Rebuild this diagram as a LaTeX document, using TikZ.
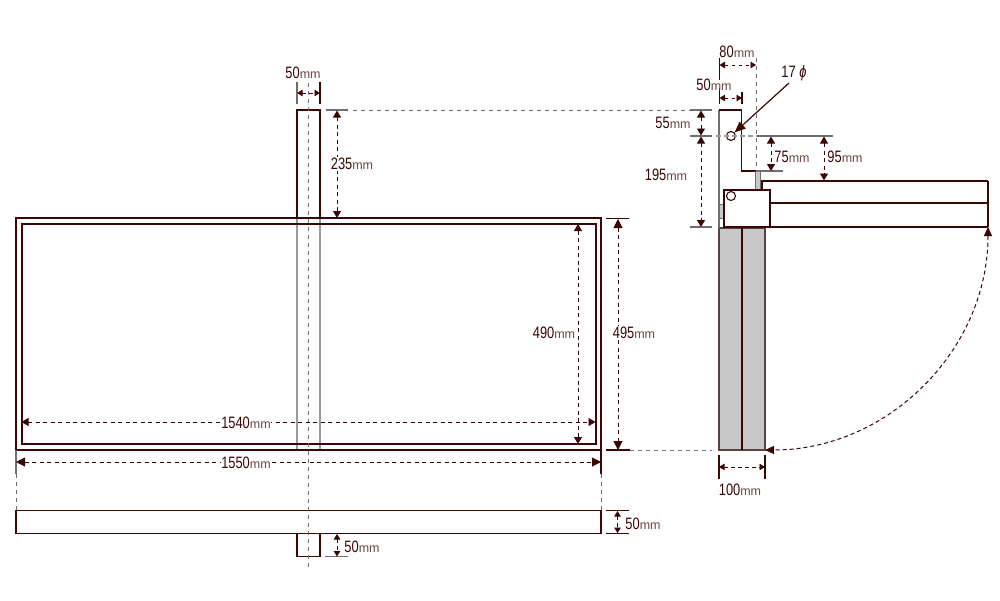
\documentclass[tikz,border=0pt]{standalone}
\usepackage{fontspec}
\setmainfont[FakeStretch=0.78]{Liberation Sans}
\newfontfamily\mmfont{Liberation Sans}
\usetikzlibrary{arrows.meta}
\definecolor{ink}{HTML}{3A0606}
\definecolor{gline}{HTML}{6E6E6E}
\definecolor{lgray}{HTML}{9A9A9A}
\definecolor{fillg}{HTML}{C8C8C8}
\tikzset{
  outline/.style={draw=ink,line width=1.5pt},
  thickline/.style={draw=ink,line width=2pt},
  fineg/.style={draw=lgray,line width=1.1pt},
  tick/.style={draw=gline,line width=1.2pt},
  dtick/.style={draw=ink,line width=1.2pt},
  hidden/.style={draw=gline,line width=1pt,dash pattern=on 4pt off 4pt},
  bigdim/.style={draw=ink,line width=0.95pt,dash pattern=on 4pt off 3.5pt,{Triangle[length=9pt,width=9pt,fill=ink]}-{Triangle[length=9pt,width=9pt,fill=ink]}},
  middim/.style={draw=ink,line width=0.95pt,dash pattern=on 4pt off 3.5pt,{Triangle[length=7pt,width=8pt,fill=ink]}-{Triangle[length=7pt,width=8pt,fill=ink]}},
  smalldim/.style={draw=ink,line width=0.95pt,dash pattern=on 3.5pt off 3.5pt,{Triangle[length=5.5pt,width=6.5pt,fill=ink]}-{Triangle[length=5.5pt,width=6.5pt,fill=ink]}},
  lab/.style={inner sep=0pt,text=ink,font=\fontsize{16.5}{17}\selectfont},
  whitelab/.style={lab,fill=white,inner xsep=0.5pt,inner ysep=1pt},
  hole/.style={circle,draw=ink,line width=1.1pt,fill=white,minimum size=9pt,inner sep=0pt},
}
\newcommand{\mmlab}[1]{#1{\mmfont\fontsize{12.5}{13}\selectfont\color{ink!75}mm}}
\begin{document}
\begin{tikzpicture}[x=1pt,y=-1pt]
\useasboundingbox (0,0) rectangle (1000,600);
\fill[white] (0,0) rectangle (1000,600);
% ---- front view
\draw[fineg] (297,218) -- (297,450);
\draw[fineg] (320,218) -- (320,450);
\draw[outline] (16,218) rectangle (601,450);
\draw[thickline] (21.5,223.5) rectangle (595.5,444);
\draw[outline] (297,218) -- (297,110) -- (320,110) -- (320,218);
% ---- plan view
\draw[outline] (16,510.5) rectangle (601,533.5);
\draw[outline] (297,533.5) -- (297,556.5) -- (320,556.5) -- (320,533.5);
% centre line
\draw[hidden] (308.5,83) -- (308.5,568);
% extension lines
\draw[hidden] (353,110) -- (690,110);
\draw[hidden] (630,450) -- (712,450);
\draw[hidden] (16,474) -- (16,510);
\draw[hidden] (601,474) -- (601,510);
\draw[tick] (326,110) -- (348,110);
\draw[dtick] (606,218.5) -- (629,218.5);
\draw[dtick] (606,450) -- (630,450);
\draw[tick] (16,450) -- (16,474);
\draw[dtick] (601,450) -- (601,474);
\draw[dtick] (606,510.5) -- (629,510.5);
\draw[dtick] (606,533.5) -- (629,533.5);
\draw[tick] (325,556.5) -- (348,556.5);
\draw[tick] (297,82) -- (297,104);
\draw[dtick] (320,82) -- (320,104);
% ---- side view
\fill[fillg] (719,228) rectangle (765,450);
\draw[outline,draw=gline!60!ink] (719,228) rectangle (765,450);
\draw[thickline] (742,228) -- (742,450);
\draw[draw=gline,line width=1.4pt] (719,110) -- (719,228);
\draw[outline] (719,110) -- (741.5,110) -- (741.5,171) -- (757,171);
\draw[draw=gline,line width=1.3pt] (757,171) -- (783,171);
\draw[fill=fillg,draw=gline,line width=1pt] (755.5,171) rectangle (760.5,190);
\draw[fill=fillg,draw=gline,line width=1pt] (719.5,204) rectangle (723.5,218);
\draw[outline] (762,190) -- (762,181) -- (988,181);
\draw[outline] (770,203) -- (988,203);
\draw[outline] (770,227) -- (988,227);
\draw[outline] (988,181) -- (988,227);
\draw[thickline,fill=white] (723.5,190) rectangle (770,227);
\node[hole] (holeA) at (731,136) {};
\node[hole] (holeB) at (731,196) {};
% centre line of hole
\draw[draw=lgray,line width=1.1pt,dash pattern=on 5pt off 3pt] (716,136) -- (757,136);
\draw[draw=gline,line width=1.4pt] (757,136) -- (833,136);
\draw[tick] (690,136) -- (712,136);
\draw[tick] (690,110) -- (712,110);
\draw[tick] (690,227) -- (712,227);
\draw[hidden] (756,58) -- (756,171);
\draw[dtick] (719.5,58) -- (719.5,80);
\draw[dtick] (719.5,88) -- (719.5,104);
\draw[dtick] (742,92) -- (742,104);
\draw[dtick] (719,455) -- (719,479);
\draw[dtick] (765,455) -- (765,479);
% ---- dimensions
\draw[smalldim] (297,93) -- (320,93);
\draw[middim] (337,110.5) -- (337,218);
\draw[bigdim] (618,219) -- (618,450);
\draw[middim] (578,224) -- (578,444);
\draw[middim] (21.5,422) -- (595.5,422);
\draw[bigdim] (16,462) -- (601,462);
\draw[smalldim] (617.5,511) -- (617.5,533);
\draw[smalldim] (337,534) -- (337,556.5);
\draw[smalldim] (719,467) -- (765,467);
\draw[smalldim] (719.5,65) -- (756,65);
\draw[smalldim] (719.5,98) -- (742,98);
\draw[middim] (701,110.5) -- (701,135.5);
\draw[middim] (701,136.5) -- (701,227);
\draw[middim] (771,136.5) -- (771,171);
\draw[middim] (824,136.5) -- (824,180.5);
% leader to the hole
\coordinate (leader) at (789,83);
\draw[draw=ink,line width=1.2pt,-{Triangle[length=11pt,width=9pt,fill=ink]}] (leader) -- (holeA.45);
% swing arc
\draw[draw=ink,line width=1pt,dash pattern=on 4pt off 3pt,{Triangle[length=9pt,width=8pt,fill=ink]}-{Triangle[length=9pt,width=8pt,fill=ink]}] (988,227) .. controls (988,350) and (888,450) .. (765,450);
% ---- labels
\node[lab] (l50a) at (303,73) {\mmlab{50}};
\node[whitelab] (l235) at (352,164) {\mmlab{235}};
\node[whitelab] (l490) at (554,333) {\mmlab{490}};
\node[whitelab] (l495) at (634,333) {\mmlab{495}};
\node[whitelab] (l1540) at (246,423) {\mmlab{1540}};
\node[whitelab] (l1550) at (246,463) {\mmlab{1550}};
\node[lab] (l50b) at (643,524) {\mmlab{50}};
\node[lab] (l50c) at (362,547) {\mmlab{50}};
\node[lab] (l100) at (740,490) {\mmlab{100}};
\node[lab] (l80) at (737,52) {\mmlab{80}};
\node[lab] (l50d) at (714,85) {\mmlab{50}};
\node[lab] (l55) at (673,123) {\mmlab{55}};
\node[lab] (l195) at (666,175) {\mmlab{195}};
\node[lab] (l75) at (792,157) {\mmlab{75}};
\node[lab] (l95) at (845,157) {\mmlab{95}};
\node[lab] (lphi) at (794,73) {17 \textit{ϕ}};
\end{tikzpicture}
\end{document}
